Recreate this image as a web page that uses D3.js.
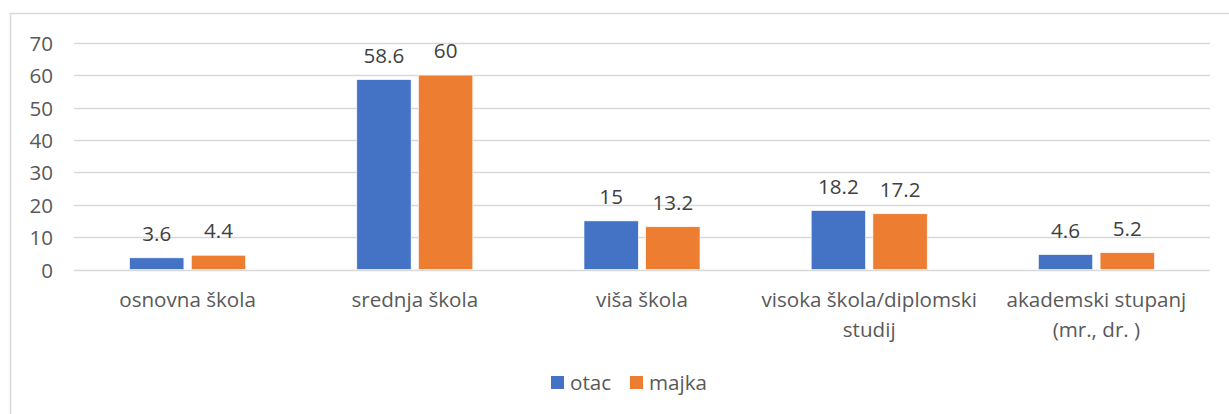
<!DOCTYPE html>
<html><head><meta charset="utf-8">
<script src="https://cdn.jsdelivr.net/npm/d3@7"></script>
<style>body{margin:0;background:#fff;} svg{display:block;}</style>
</head><body>
<svg id="c" width="1229" height="414"></svg>
<script>
const categories = [["osnovna škola"], ["srednja škola"], ["viša škola"], ["visoka škola/diplomski", "studij"], ["akademski stupanj", "(mr., dr. )"]];
const otac = [3.6, 58.6, 15, 18.2, 4.6];
const majka = [4.4, 60, 13.2, 17.2, 5.2];
const seriesNames = ["otac", "majka"];
const yTicks = [0, 10, 20, 30, 40, 50, 60, 70];

const colors = ["#4472C4", "#ED7D31"];
const font = "'Open Sans', 'Noto Sans', sans-serif";
const fs = 20.6;
const svg = d3.select("#c");

// outer border
svg.append("rect").attr("x", 10.5).attr("y", 13.5).attr("width", 1240).attr("height", 420)
  .attr("fill", "none").attr("stroke", "#D9D9D9").attr("stroke-width", 1.5);

const x0 = d3.scaleBand().domain(d3.range(categories.length)).range([74, 1210]);
const y = d3.scaleLinear().domain([0, 70]).range([269.5, 42.7]);
const x1 = d3.scaleBand().domain([0, 1]).range([0, 116]).paddingInner(0.12);

// gridlines
svg.append("g").selectAll("line").data(yTicks).join("line")
  .attr("x1", 74).attr("x2", 1210)
  .attr("y1", d => Math.round(y(d)) + 0.5).attr("y2", d => Math.round(y(d)) + 0.5)
  .attr("stroke", "#D9D9D9").attr("stroke-width", 1.3);

// y axis labels
const yAxis = d3.axisLeft(y).tickValues(yTicks).tickSize(0).tickPadding(0);
const ga = svg.append("g").attr("transform", "translate(53,0)").call(yAxis);
ga.select(".domain").remove();
ga.selectAll("text").attr("font-family", font).attr("font-size", fs).attr("fill", "#595959").attr("dy", 7.5);

const data = [otac, majka];
const g = svg.append("g");
categories.forEach((cat, i) => {
  const cx = x0(i) + x0.bandwidth() / 2 - 58;
  data.forEach((s, j) => {
    const v = s[i];
    g.append("rect").attr("x", cx + x1(j)).attr("y", y(v))
      .attr("width", x1.bandwidth()).attr("height", y(0) - y(v))
      .attr("fill", colors[j]).attr("stroke", "#fff").attr("stroke-width", 0.6);
    g.append("text").attr("x", cx + x1(j) + x1.bandwidth() / 2).attr("y", y(v) - 17)
      .attr("text-anchor", "middle").attr("font-family", font).attr("font-size", fs)
      .attr("fill", "#404040").text(v);
  });
  const t = g.append("text").attr("x", x0(i) + x0.bandwidth() / 2).attr("y", 307)
    .attr("text-anchor", "middle").attr("font-family", font).attr("font-size", fs)
    .attr("fill", "#595959");
  cat.forEach((line, k) => {
    t.append("tspan").attr("x", x0(i) + x0.bandwidth() / 2).attr("dy", k === 0 ? 0 : 30).text(line);
  });
});

// legend
const legX = [551, 630];
seriesNames.forEach((n, j) => {
  svg.append("rect").attr("x", legX[j]).attr("y", 376).attr("width", 13).attr("height", 13).attr("fill", colors[j]);
  svg.append("text").attr("x", legX[j] + 19).attr("y", 390).attr("font-family", font)
    .attr("font-size", fs).attr("fill", "#595959").text(n);
});
</script>
</body></html>
